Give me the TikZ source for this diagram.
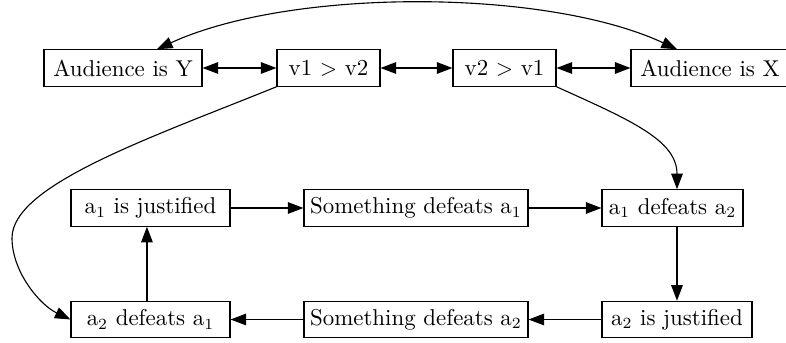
\documentclass[tikz,border=0pt]{standalone}
\usetikzlibrary{arrows.meta,calc}
\begin{document}
\begin{tikzpicture}[x=0.45pt,y=-0.45pt,
  bx/.style={draw, line width=0.5pt, inner sep=0pt, minimum height=16.4pt, font=\fontsize{10.3}{12.3}\selectfont},
  tip/.tip={Triangle[length=7pt,width=5.2pt]},
  ed/.style={line width=0.5pt, -tip},
  bi/.style={line width=0.5pt, tip-tip}]
\useasboundingbox (0,0) rectangle (786,343);
% top row
\node[bx, minimum width=71.1pt]  (ay)  at (123,68)   {Audience is Y};
\node[bx, minimum width=46.35pt] (v12) at (328.5,68) {v1 $>$ v2};
\node[bx, minimum width=46.35pt] (v21) at (504.5,68) {v2 $>$ v1};
\node[bx, minimum width=71.1pt]  (ax)  at (710,68)   {Audience is X};
% middle row
\node[bx, minimum width=71.55pt] (a1j) at (150.5,208) {a$_1$ is justified};
\node[bx, minimum width=100.8pt] (s1)  at (416,208)   {Something defeats a$_1$};
\node[bx, minimum width=63.45pt] (a12) at (672.5,208) {a$_1$ defeats a$_2$};
% bottom row
\node[bx, minimum width=71.55pt] (a21) at (150.5,319.5) {a$_2$ defeats a$_1$};
\node[bx, minimum width=100.8pt] (s2)  at (416,319.5)   {Something defeats a$_2$};
\node[bx, minimum width=67.5pt]  (a2j) at (677,319.5)   {a$_2$ is justified};
% top connectors
\draw[bi] (ay) -- (v12);
\draw[bi] (v12) -- (v21);
\draw[bi] (v21) -- (ax);
\draw[bi] ($(ay.north)+(34,0)$) .. controls (290,-12) and (545,-12) .. ($(ax.north)+(-33,0)$);
% curves down
\draw[ed] (v12.south west) .. controls (150,138) and (12,185) .. (12,238)
  .. controls (12,272) and (40,305) .. (a21.west);
\draw[ed] (v21.south east) .. controls (630,120) and (677,140) .. (a12.north -| a2j.center);
% cycle
\draw[ed] (a1j) -- (s1);
\draw[ed] (s1) -- (a12);
\draw[ed] (a12.south -| a2j.center) -- (a2j);
\draw[ed] (a2j) -- (s2);
\draw[ed] (s2) -- (a21);
\draw[ed] ([xshift=-1.6pt]a21.north) -- ([xshift=-1.6pt]a1j.south);
\end{tikzpicture}
\end{document}
